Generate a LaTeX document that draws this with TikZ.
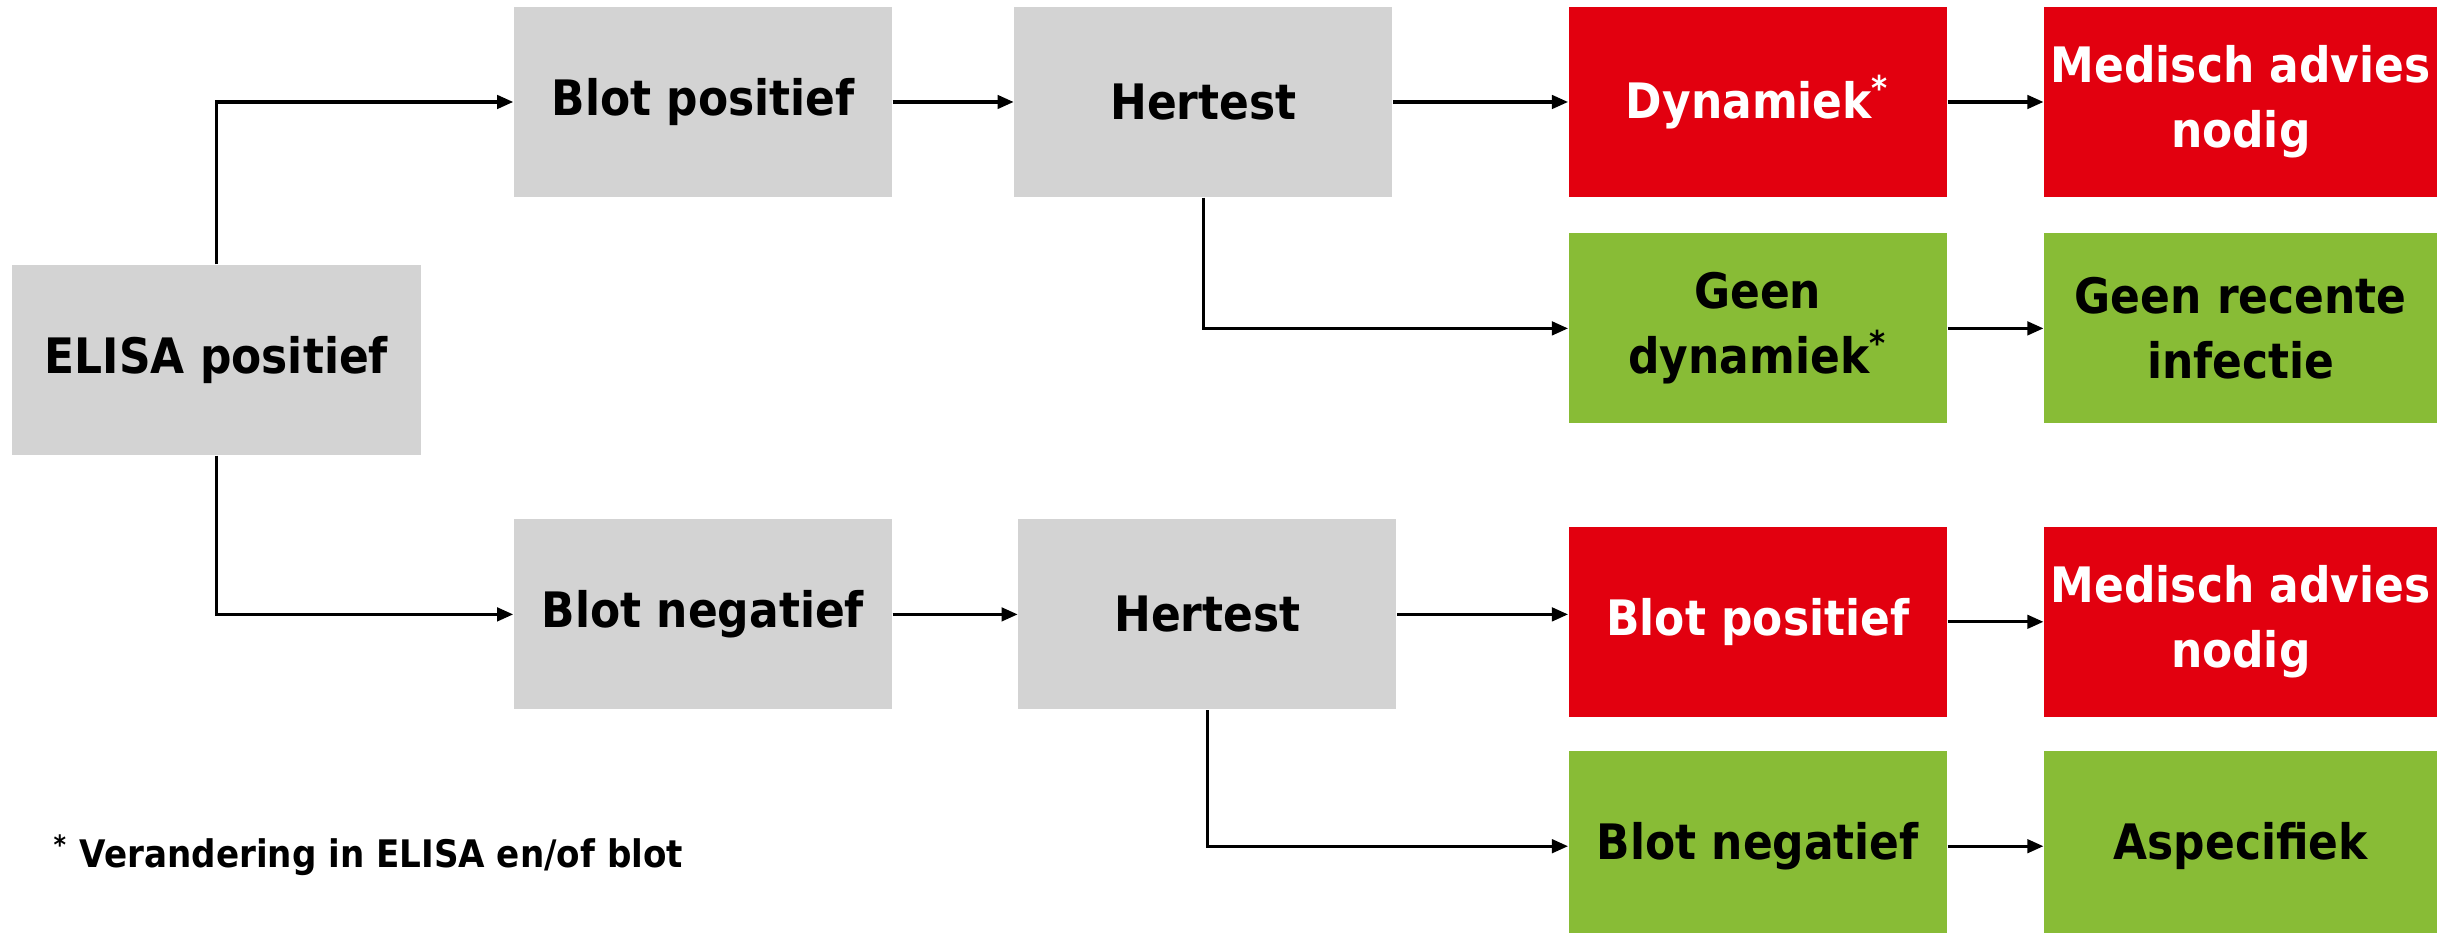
\documentclass[tikz,border=0pt]{standalone}
\usepackage{fontspec}
\setmainfont{DejaVu Sans Condensed}
\usepackage{tikz}
\usetikzlibrary{shapes,arrows,arrows.meta,positioning}

\definecolor{boxgray}{HTML}{D3D3D3}
\definecolor{alarmred}{HTML}{E2000F}
\definecolor{okgreen}{HTML}{88BC36}

\begin{document}
\begin{tikzpicture}[
        node distance=1cm,
        font=\fontsize{13.9pt}{18.6pt}\selectfont\bfseries,
        block/.style={rectangle, fill=boxgray, inner sep=0pt,
        minimum width=3.78cm, minimum height=1.9cm, align=center},
        alarm/.style={block, fill=alarmred, text=white},
        calm/.style={block, fill=okgreen},
        arrow/.style={->, >={Triangle[length=4.6pt,width=3.8pt]}, line width=0.95pt}
    ]
        \useasboundingbox (0,0) rectangle (24.4,9.33);

% Start block
        \node[block, minimum width=4.09cm] (elisa) at (2.165,5.73) {ELISA positief};

% Upper branch
        \node[block] (bpos) at (7.03,8.31) {Blot positief};
        \node[block, right=1.21cm of bpos] (hert1) {Hertest};
        \node[alarm, right=1.75cm of hert1] (dyn) {Dynamiek\textsuperscript{*}};
        \node[alarm, right=0.96cm of dyn, minimum width=3.93cm] (med1) {Medisch advies\\ nodig};
        \node[calm, below=0.35cm of dyn] (geendyn) {Geen\\ dynamiek\textsuperscript{*}};
        \node[calm, right=0.96cm of geendyn, minimum width=3.93cm] (geenrec) {Geen recente\\ infectie};

% Lower branch
        \node[block, below=3.21cm of bpos] (bneg) {Blot negatief};
        \node[block, right=1.25cm of bneg] (hert2) {Hertest};
        \node[alarm, below=1.02cm of geendyn] (bpos2) {Blot positief};
        \node[alarm, right=0.96cm of bpos2, minimum width=3.93cm] (med2) {Medisch advies\\ nodig};
        \node[calm, below=0.33cm of bpos2] (bneg2) {Blot negatief};
        \node[calm, right=0.96cm of bneg2, minimum width=3.93cm] (asp) {Aspecifiek};

% Arrows
        \draw[arrow] (elisa.north) |- (bpos.west);
        \draw[arrow] (elisa.south) |- (bneg.west);
        \draw[arrow] (bpos) -- (hert1);
        \draw[arrow] (hert1) -- (dyn);
        \draw[arrow] (hert1.south) |- (geendyn.west);
        \draw[arrow] (dyn) -- (med1);
        \draw[arrow] (geendyn) -- (geenrec);
        \draw[arrow] (bneg) -- (hert2);
        \draw[arrow] (hert2.east) -- (hert2.east -| bpos2.west);
        \draw[arrow] (hert2.south) |- (bneg2.west);
        \draw[arrow] (bpos2) -- (med2);
        \draw[arrow] (bneg2) -- (asp);

% Footnote
        \node[anchor=base west, inner sep=0pt, font=\fontsize{10.8pt}{13pt}\selectfont\bfseries] (note) at (0.53,0.65)
        {\textsuperscript{*} Verandering in ELISA en/of blot};

    \end{tikzpicture}
\end{document}
